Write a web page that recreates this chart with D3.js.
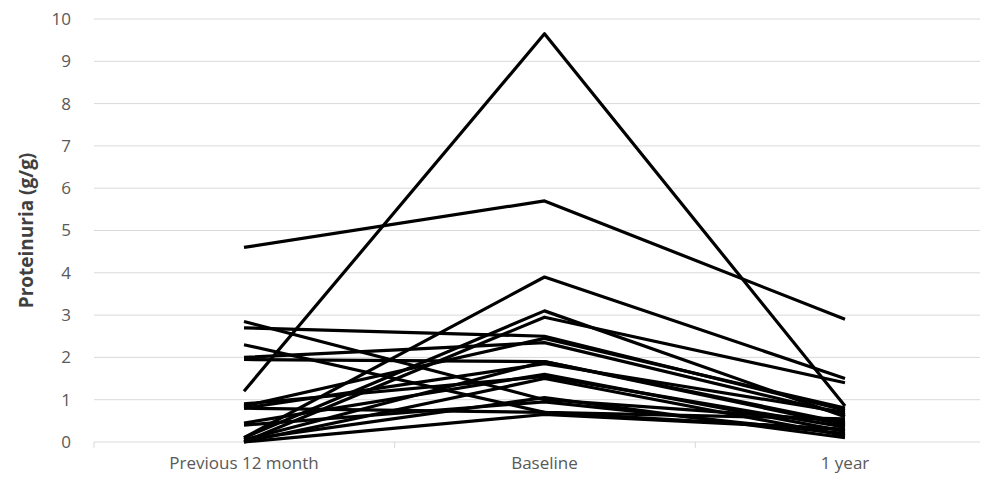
<!DOCTYPE html>
<html>
<head>
<meta charset="utf-8">
<script src="https://cdn.jsdelivr.net/npm/d3@7"></script>
<style>
  body { margin: 0; background: #fff; }
  text { font-family: "Open Sans", "Liberation Sans", sans-serif; }
</style>
</head>
<body>
<script>
const categories = ["Previous 12 month", "Baseline", "1 year"];
const yTicks = [0, 1, 2, 3, 4, 5, 6, 7, 8, 9, 10];

// one value per patient
const previous = [4.6, 1.2, 2.85, 2.7, 2.3, 2.0, 1.95, 0.9, 0.85, 0.8, 0.8, 0.45, 0.4, 0.1, 0.1, 0.05, 0.0, 0.05, 0.0, 0.0];
const baseline = [5.7, 9.65, 1.0, 2.5, 0.7, 2.35, 1.9, 1.55, 2.45, 0.7, 1.85, 1.6, 0.95, 3.9, 3.1, 1.9, 1.5, 1.05, 2.95, 0.65];
const oneYear  = [2.9, 0.85, 0.5, 0.75, 0.55, 0.65, 0.45, 0.35, 0.8, 0.3, 0.7, 0.25, 0.2, 1.5, 0.6, 0.4, 0.15, 0.1, 1.4, 0.3];

const width = 985, height = 483;
const margin = { top: 19, right: 0, bottom: 41, left: 94 };

const svg = d3.select("body").append("svg")
  .attr("width", width)
  .attr("height", height);

const x = d3.scalePoint()
  .domain(categories)
  .range([244, 845]);

const xBand = d3.scaleBand()
  .domain(categories)
  .range([margin.left, 996]);

const y = d3.scaleLinear()
  .domain([0, 10])
  .range([height - margin.bottom, margin.top]);

// gridlines
svg.append("g")
  .selectAll("line")
  .data(yTicks.slice(1))
  .join("line")
  .attr("x1", margin.left)
  .attr("x2", width - 5)
  .attr("y1", d => y(d))
  .attr("y2", d => y(d))
  .attr("stroke", "#d9d9d9")
  .attr("stroke-width", 1);

// y tick labels
svg.append("g")
  .selectAll("text")
  .data(yTicks)
  .join("text")
  .attr("x", 71)
  .attr("y", d => y(d))
  .attr("dy", "0.35em")
  .attr("text-anchor", "end")
  .attr("fill", "#595959")
  .style("font-size", "17px")
  .text(d => d);

// x axis baseline with category ticks
const xAxis = svg.append("g");
xAxis.append("line")
  .attr("x1", margin.left)
  .attr("x2", width - 5)
  .attr("y1", y(0))
  .attr("y2", y(0))
  .attr("stroke", "#d9d9d9");
xAxis.selectAll(".tick")
  .data(categories)
  .join("line")
  .attr("class", "tick")
  .attr("x1", d => xBand(d))
  .attr("x2", d => xBand(d))
  .attr("y1", y(0))
  .attr("y2", y(0) + 6)
  .attr("stroke", "#d9d9d9");
xAxis.selectAll("text")
  .data(categories)
  .join("text")
  .attr("x", d => x(d))
  .attr("y", 469)
  .attr("text-anchor", "middle")
  .attr("fill", "#595959")
  .style("font-size", "17px")
  .text(d => d);

// y axis title
svg.append("text")
  .attr("transform", `translate(26, ${(y(0) + y(10)) / 2}) rotate(-90)`)
  .attr("text-anchor", "middle")
  .attr("dy", "0.35em")
  .attr("fill", "#404040")
  .style("font-size", "19px")
  .style("font-weight", "bold")
  .text("Proteinuria (g/g)");

const patients = previous.map((p, i) => [p, baseline[i], oneYear[i]]);

const line = d3.line()
  .x((_, j) => x(categories[j]))
  .y(d => y(d));

svg.append("g")
  .selectAll("path")
  .data(patients)
  .join("path")
  .attr("d", line)
  .attr("fill", "none")
  .attr("stroke", "#000")
  .attr("stroke-width", 3.2)
  .attr("stroke-linejoin", "round");
</script>
</body>
</html>
